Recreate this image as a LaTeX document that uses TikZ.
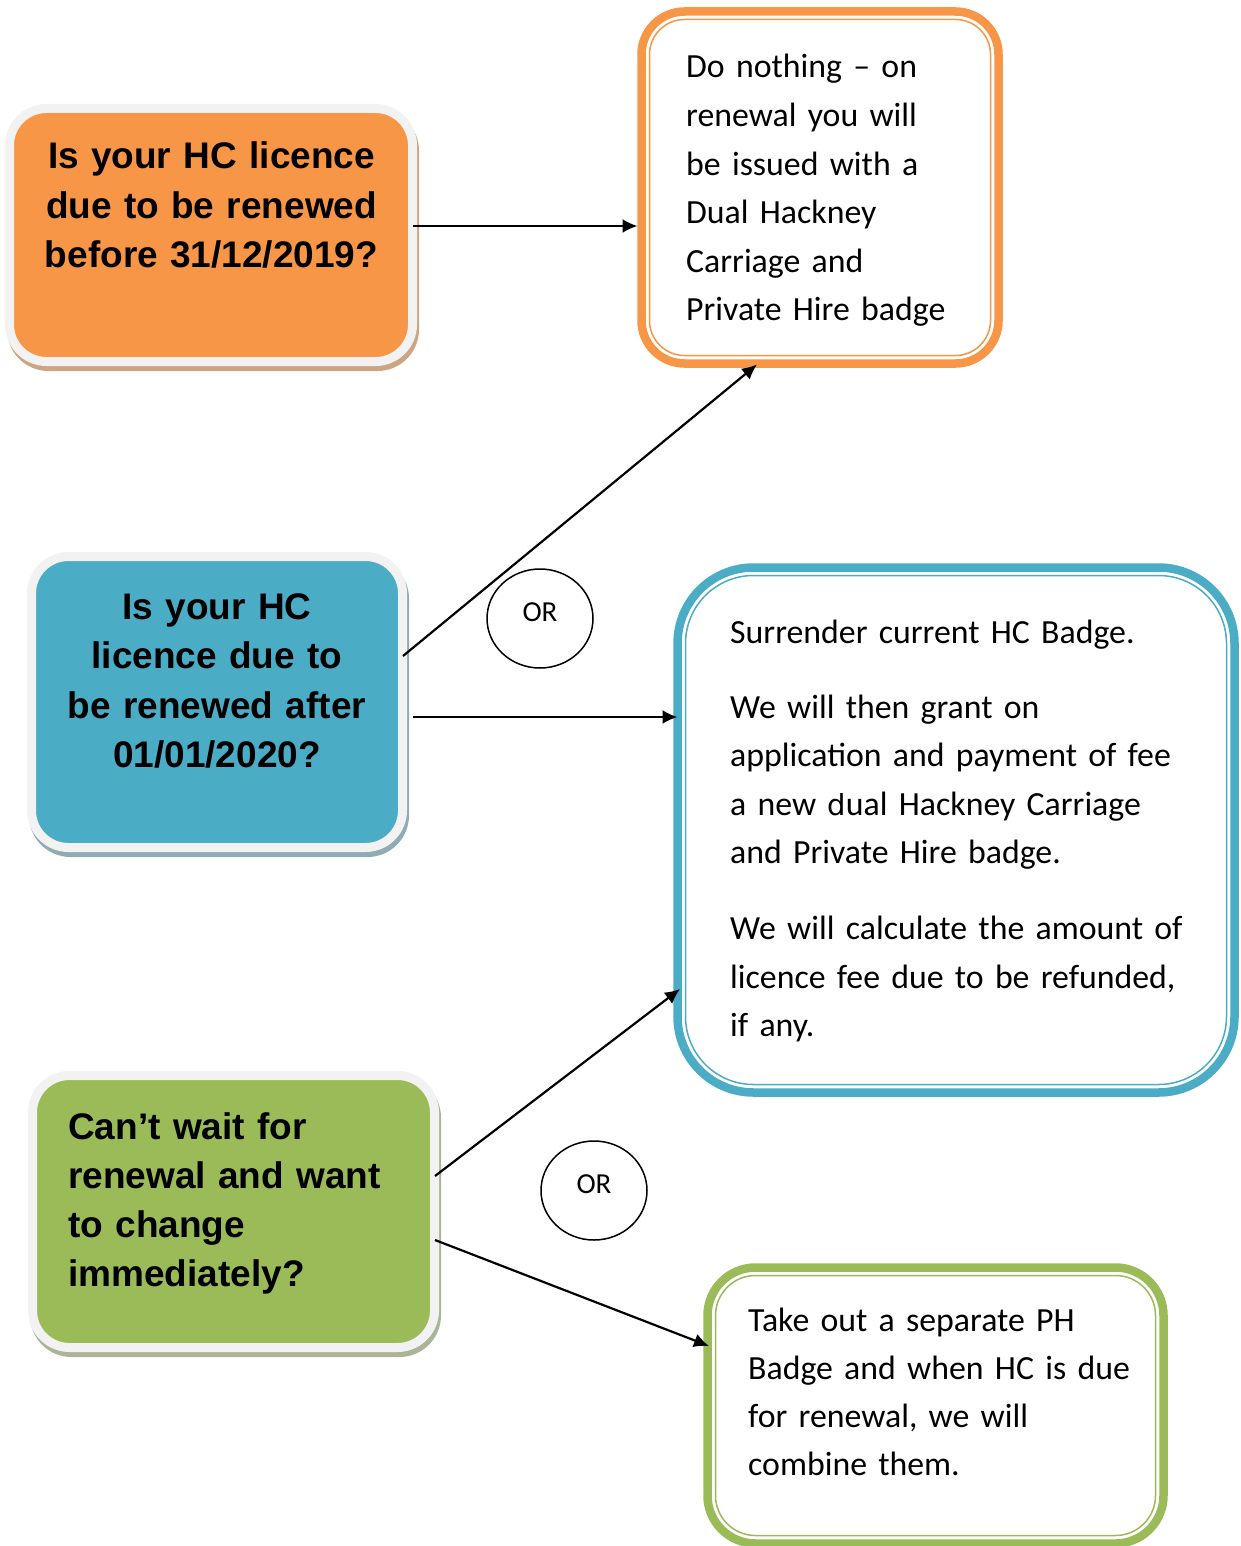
\documentclass[tikz,border=0pt]{standalone}
\usepackage{fontspec}
\setmainfont{Carlito}
\newfontfamily\qfont{Liberation Sans}
\newfontfamily\dvfont{DejaVu Sans}
\usetikzlibrary{arrows.meta,shapes.geometric,calc,backgrounds}
\definecolor{corange}{HTML}{F79646}
\definecolor{cblue}{HTML}{4BACC6}
\definecolor{cgreen}{HTML}{9BBB59}
\definecolor{cgrey}{HTML}{F2F2F2}
\definecolor{shorange}{HTML}{CDA583}
\definecolor{shblue}{HTML}{8FACB4}
\definecolor{shgreen}{HTML}{AAB496}
\begin{document}
\begin{tikzpicture}[x=1pt,y=-1pt,
  qbox/.style={draw=cgrey, line width=9pt, rounded corners=37pt, inner sep=0pt, outer sep=0pt},
  abox/.style={line width=8.5pt, inner sep=0pt, outer sep=0pt, fill=white},
  qtext/.style={font=\qfont\bfseries\fontsize{37}{49.5}\selectfont, inner sep=0pt},
  atext/.style={font=\fontsize{33.8}{48.6}\selectfont, inner sep=0pt, text width=520pt, align=left, anchor=base west},
  orbox/.style={draw, ellipse, line width=1.5pt, minimum width=106pt, minimum height=99pt, inner sep=0pt, text height=18.7pt, text depth=13pt, font=\fontsize{29}{30}\selectfont},
  arr/.style={line width=2.2pt, -{Latex[length=15pt,width=14pt]}}
]
\useasboundingbox (0,0) rectangle (1240,1546);

% question boxes
\node[qbox, fill=corange, minimum width=403pt, minimum height=253pt] (oq) at (211,235) {};
\node[qbox, fill=cblue, minimum width=371pt, minimum height=291pt] (bq) at (217,702) {};
\node[qbox, fill=cgreen, minimum width=402pt, minimum height=272pt] (gq) at (233.5,1211.5) {};

\begin{pgfonlayer}{background}
\fill[shorange, rounded corners=41.5pt] ($(oq.north west)+(-2.5,0.5)$) rectangle ($(oq.south east)+(6.5,9.5)$);
\fill[shblue, rounded corners=41.5pt] ($(bq.north west)+(-2.5,0.5)$) rectangle ($(bq.south east)+(6.5,9.5)$);
\fill[shgreen, rounded corners=41.5pt] ($(gq.north west)+(-2.5,0.5)$) rectangle ($(gq.south east)+(6.5,9.5)$);
\end{pgfonlayer}

\node[qtext, text width=400pt, align=center, anchor=base] (oqt) at (211.5,169)
  {Is your HC licence\\due to be renewed\\before 31/12/2019?};
\node[qtext, text width=370pt, align=center, anchor=base] (bqt) at (217,619)
  {Is your HC\\licence due to\\be renewed after\\01/01/2020?};
\node[qtext, font=\qfont\bfseries\fontsize{37}{49}\selectfont, text width=370pt, align=left, anchor=base west] (gqt) at (68,1139)
  {Can’t wait for\\renewal and want\\to change\\immediately?};

% answer boxes
\node[abox, draw=corange, rounded corners=43pt, minimum width=357pt, minimum height=352pt] (oa) at (820,187.5) {};
\draw[corange, line width=1.5pt, rounded corners=35pt] ($(oa.north west)+(8,8)$) rectangle ($(oa.south east)+(-8,-8)$);
\node[abox, draw=cblue, rounded corners=76pt, minimum width=557pt, minimum height=525pt] (ba) at (956,830) {};
\draw[cblue, line width=1.5pt, rounded corners=68pt] ($(ba.north west)+(8,8)$) rectangle ($(ba.south east)+(-8,-8)$);
\node[abox, draw=cgreen, rounded corners=48pt, minimum width=456pt, minimum height=276pt] (ga) at (935.5,1405.5) {};
\draw[cgreen, line width=1.5pt, rounded corners=40pt] ($(ga.north west)+(8,8)$) rectangle ($(ga.south east)+(-8,-8)$);

\node[atext] (oat) at (686,78)
  {Do nothing – on\\renewal you will\\be issued with a\\Dual Hackney\\Carriage and\\Private Hire badge};
\node[atext] (bat) at (730,643)
  {Surrender current HC Badge.\\[26.5pt]We will then grant on\\application and payment of fee\\a new {\dvfont\fontsize{29}{30}\selectfont d}ual Hackney Carriage\\and Private Hire badge.\\[27pt]We will calculate the amount of\\licence fee due to be refunded,\\if any.};
\node[atext, font=\fontsize{33.8}{48.3}\selectfont] (gat) at (748,1331)
  {Take out a separate PH\\Badge and when HC is due\\for renewal, we will\\combine them.};

% OR ellipses
\node[orbox] (or1) at (540,618.5) {OR};
\node[orbox] (or2) at (594,1190.5) {OR};

% connectors
\draw[arr] ($(oq.east)+(0.5,-9)$) -- ($(oa.west)+(-4,38.5)$);
\draw[arr] ($(bq.east)+(0.5,-46)$) -- ($(oa.south)+(-63,1)$);
\draw[arr] ($(bq.east)+(10.5,15)$) -- ($(ba.west)+(0,-113)$);
\draw[arr] ($(gq.east)+(0.5,-35.5)$) -- ($(ba.west)+(2.5,159)$);
\draw[arr] ($(gq.east)+(0.5,28.5)$) -- ($(ga.west)+(1.5,-59.5)$);
\end{tikzpicture}
\end{document}
